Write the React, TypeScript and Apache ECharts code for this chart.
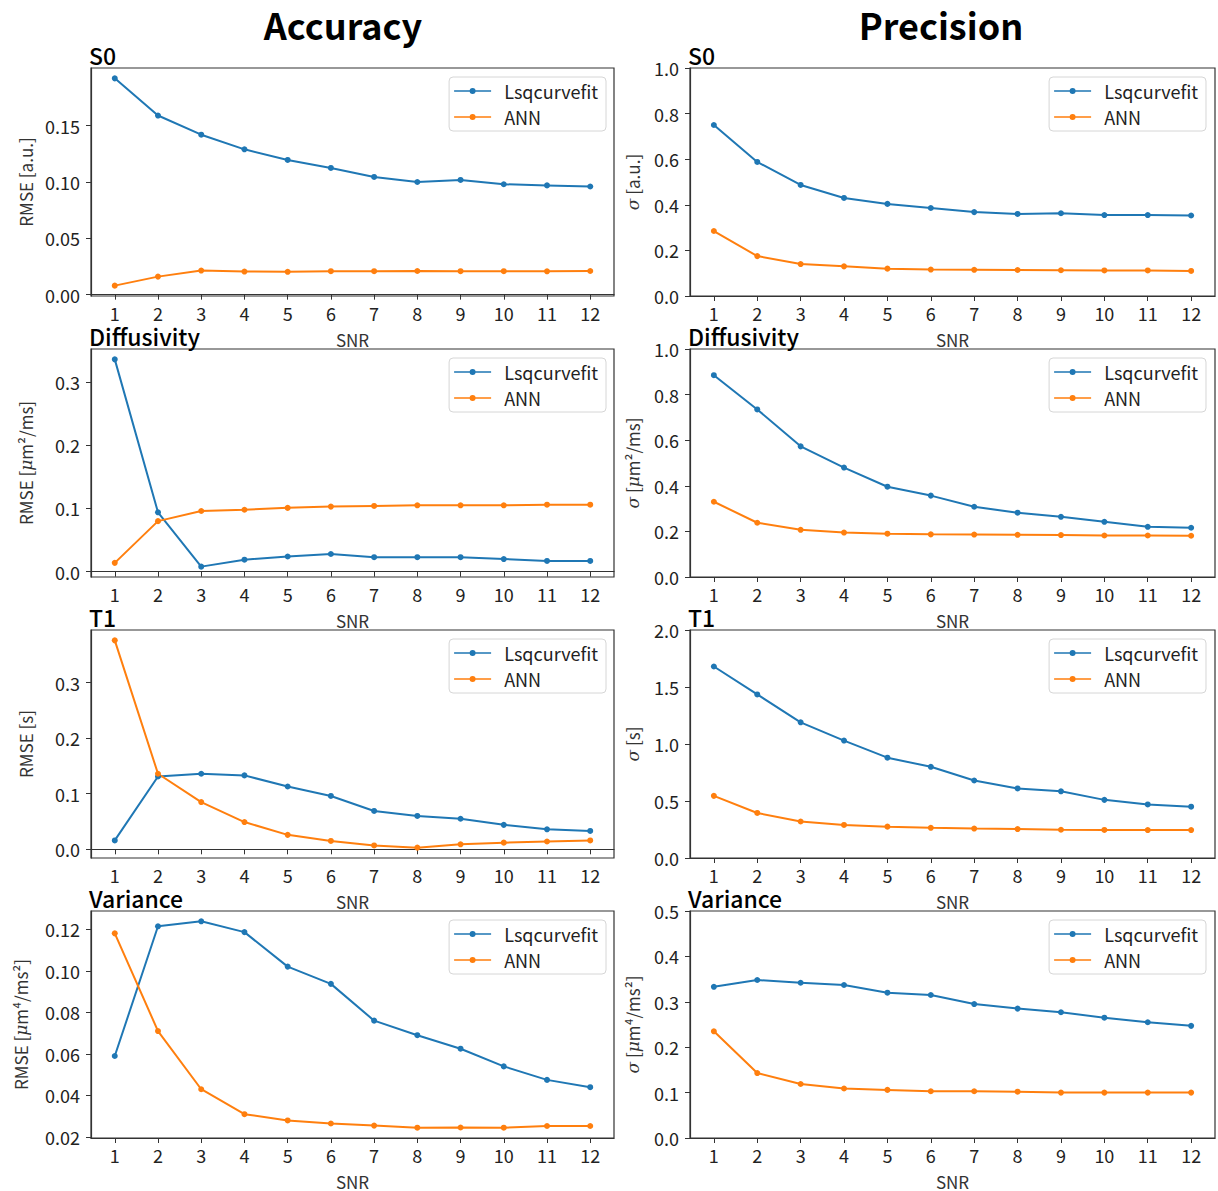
import React, { useEffect, useRef } from "react";
import * as echarts from "echarts";

const SNR = [1, 2, 3, 4, 5, 6, 7, 8, 9, 10, 11, 12];

// Accuracy (RMSE)
const s0AccLsq = [0.192, 0.159, 0.142, 0.129, 0.1196, 0.1125, 0.1045, 0.1, 0.1018, 0.098, 0.097, 0.096];
const s0AccAnn = [0.008, 0.016, 0.0214, 0.0205, 0.0203, 0.0208, 0.0208, 0.021, 0.0208, 0.0208, 0.0207, 0.021];
const dAccLsq = [0.336, 0.094, 0.008, 0.019, 0.024, 0.028, 0.023, 0.023, 0.023, 0.02, 0.017, 0.017];
const dAccAnn = [0.014, 0.08, 0.096, 0.098, 0.101, 0.103, 0.104, 0.105, 0.105, 0.105, 0.106, 0.106];
const t1AccLsq = [0.016, 0.131, 0.136, 0.133, 0.113, 0.096, 0.069, 0.06, 0.055, 0.044, 0.036, 0.033];
const t1AccAnn = [0.376, 0.136, 0.085, 0.049, 0.026, 0.015, 0.007, 0.003, 0.009, 0.012, 0.014, 0.016];
const vAccLsq = [0.059, 0.1214, 0.1238, 0.1186, 0.102, 0.0937, 0.076, 0.069, 0.0625, 0.054, 0.0475, 0.044];
const vAccAnn = [0.118, 0.071, 0.043, 0.031, 0.028, 0.0265, 0.0255, 0.0245, 0.0246, 0.0245, 0.0253, 0.0253];

// Precision (sigma)
const s0PreLsq = [0.75, 0.588, 0.487, 0.43, 0.404, 0.386, 0.368, 0.36, 0.363, 0.355, 0.355, 0.353];
const s0PreAnn = [0.285, 0.175, 0.14, 0.13, 0.12, 0.116, 0.115, 0.114, 0.113, 0.112, 0.112, 0.11];
const dPreLsq = [0.885, 0.735, 0.573, 0.48, 0.396, 0.357, 0.308, 0.282, 0.264, 0.242, 0.22, 0.216];
const dPreAnn = [0.33, 0.238, 0.207, 0.195, 0.19, 0.187, 0.186, 0.185, 0.184, 0.182, 0.182, 0.181];
const t1PreLsq = [1.68, 1.435, 1.19, 1.03, 0.88, 0.8, 0.68, 0.61, 0.585, 0.51, 0.47, 0.45];
const t1PreAnn = [0.545, 0.395, 0.32, 0.29, 0.275, 0.265, 0.258, 0.254, 0.248, 0.246, 0.245, 0.245];
const vPreLsq = [0.333, 0.348, 0.342, 0.337, 0.32, 0.315, 0.295, 0.285, 0.277, 0.265, 0.255, 0.247];
const vPreAnn = [0.235, 0.143, 0.119, 0.109, 0.106, 0.103, 0.103, 0.102, 0.1, 0.1, 0.1, 0.1];

const rowTitles = ["S0", "Diffusivity", "T1", "Variance"];
const accNames = ["RMSE [a.u.]", "RMSE [{i|μ}m²/ms]", "RMSE [s]", "RMSE [{i|μ}m⁴/ms²]"];
const preNames = ["{i|σ} [a.u.]", "{i|σ} [{i|μ}m²/ms]", "{i|σ} [s]", "{i|σ} [{i|μ}m⁴/ms²]"];
const accTicks = [
  [0, 0.05, 0.1, 0.15],
  [0, 0.1, 0.2, 0.3],
  [0, 0.1, 0.2, 0.3],
  [0.02, 0.04, 0.06, 0.08, 0.1, 0.12],
];
const accDecimals = [2, 1, 1, 2];
const preMax = [1.0, 1.0, 2.0, 0.5];
const preInterval = [0.2, 0.2, 0.5, 0.1];

const FONT = "Noto Sans CJK KR";
const BLUE = "#1f77b4";
const ORANGE = "#ff7f0e";

function autoRange(a: number[], b: number[]) {
  const all = a.concat(b);
  const lo = Math.min(...all);
  const hi = Math.max(...all);
  const m = (hi - lo) * 0.05;
  return [lo - m, hi + m];
}

export default function App() {
  const ref = useRef<HTMLDivElement>(null);
  useEffect(() => {
    if (!ref.current) return;
    const chart = echarts.init(ref.current, undefined, { renderer: "svg" });

    const accData = [
      [s0AccLsq, s0AccAnn],
      [dAccLsq, dAccAnn],
      [t1AccLsq, t1AccAnn],
      [vAccLsq, vAccAnn],
    ];
    const preData = [
      [s0PreLsq, s0PreAnn],
      [dPreLsq, dPreAnn],
      [t1PreLsq, t1PreAnn],
      [vPreLsq, vPreAnn],
    ];
    const rowTops = [68, 349, 630, 911];
    const rowH = 228;
    const colLeft = [91, 690];
    const colW = [523, 525];

    const grids: any[] = [];
    const xAxes: any[] = [];
    const yAxes: any[] = [];
    const series: any[] = [];
    const legends: any[] = [];
    const titles: any[] = [
      { text: "Accuracy", left: 343, top: 4, textAlign: "center", padding: 0, textStyle: { fontFamily: FONT, fontSize: 36, fontWeight: "bold", color: "#000", lineHeight: 40 } },
      { text: "Precision", left: 941, top: 4, textAlign: "center", padding: 0, textStyle: { fontFamily: FONT, fontSize: 36, fontWeight: "bold", color: "#000", lineHeight: 40 } },
    ];
    const icon = "path://M0,2.2H37V3.8H0Z M18.5,0A3,3 0 1 1 18.5,6A3,3 0 1 1 18.5,0Z";
    const richIt = { i: { fontStyle: "italic", fontFamily: "DejaVu Serif", fontSize: 17, color: "#333" } };

    for (let r = 0; r < 4; r++) {
      for (let c = 0; c < 2; c++) {
        const idx = grids.length;
        grids.push({
          left: colLeft[c], top: rowTops[r], width: colW[c], height: rowH,
          show: true, borderColor: "#333", borderWidth: 1.2, backgroundColor: "transparent",
        });
        titles.push({
          text: rowTitles[r], left: colLeft[c] - 2, top: rowTops[r] - 25, padding: 0,
          textStyle: { fontFamily: FONT, fontSize: 23, fontWeight: 500, color: "#000", lineHeight: 24 },
        });
        xAxes.push({
          type: "value", gridIndex: idx, min: 0.45, max: 12.55,
          name: "SNR", nameLocation: "middle", nameGap: 35,
          nameTextStyle: { fontFamily: FONT, fontSize: 17, color: "#333", lineHeight: 17 },
          axisLine: { lineStyle: { color: "#333", width: 1.2 } },
          axisTick: { customValues: SNR, length: 5, lineStyle: { color: "#333" } },
          axisLabel: { customValues: SNR, fontFamily: FONT, fontSize: 18, color: "#222", margin: 9, lineHeight: 16 },
          splitLine: { show: false },
        });
        const pair = c === 0 ? accData[r] : preData[r];
        let yAxis: any;
        if (c === 0) {
          const [lo, hi] = autoRange(pair[0], pair[1]);
          const dec = accDecimals[r];
          yAxis = {
            type: "value", gridIndex: idx, min: lo, max: hi,
            axisTick: { customValues: accTicks[r] },
            axisLabel: { customValues: accTicks[r], formatter: (v: number) => v.toFixed(dec) },
            name: accNames[r], nameGap: r === 3 ? 62 : 57,
          };
        } else {
          yAxis = {
            type: "value", gridIndex: idx, min: 0, max: preMax[r], interval: preInterval[r],
            axisLabel: { formatter: (v: number) => v.toFixed(1) },
            name: preNames[r], nameGap: 49,
          };
        }
        yAxis.nameLocation = "middle";
        yAxis.nameRotate = 90;
        yAxis.nameTextStyle = { fontFamily: FONT, fontSize: 17, color: "#333", rich: richIt };
        yAxis.axisLine = { show: true, lineStyle: { color: "#333", width: 1.2 } };
        yAxis.axisTick = Object.assign({ show: true, length: 5, lineStyle: { color: "#333" } }, yAxis.axisTick || {});
        yAxis.axisLabel = Object.assign({ fontFamily: FONT, fontSize: 18, color: "#222", margin: 11, showMinLabel: true, showMaxLabel: true }, yAxis.axisLabel);
        yAxis.splitLine = { show: false };
        yAxes.push(yAxis);

        const names = ["Lsqcurvefit", "ANN"];
        const colors = [BLUE, ORANGE];
        for (let s = 0; s < 2; s++) {
          series.push({
            name: names[s], type: "line", xAxisIndex: idx, yAxisIndex: idx,
            data: SNR.map((x, k) => [x, pair[s][k]]),
            symbol: "circle", symbolSize: 6, showSymbol: true,
            lineStyle: { color: colors[s], width: 2 },
            itemStyle: { color: colors[s] },
            color: colors[s],
          });
        }
        legends.push({
          data: ["Lsqcurvefit", "ANN"], orient: "vertical",
          right: c === 0 ? 1218 - 606 : 1218 - 1206, top: rowTops[r] + 9,
          icon, itemWidth: 37, itemHeight: 6, itemGap: 8,
          formatter: "  {name}",
          backgroundColor: "#fff", borderColor: "#d6d6d6", borderWidth: 1, borderRadius: 4,
          padding: [5, 8, 5, 5],
          textStyle: { fontFamily: FONT, fontSize: 18, color: "#222", lineHeight: 18 },
        });
      }
    }

    chart.setOption({
      animation: false,
      backgroundColor: "#fff",
      title: titles,
      grid: grids,
      xAxis: xAxes,
      yAxis: yAxes,
      legend: legends,
      series,
    });
    return () => chart.dispose();
  }, []);
  return (
    <div
      ref={ref}
      style={{ position: "absolute", left: 0, top: 0, width: 1218, height: 1191, background: "#fff" }}
    />
  );
}
